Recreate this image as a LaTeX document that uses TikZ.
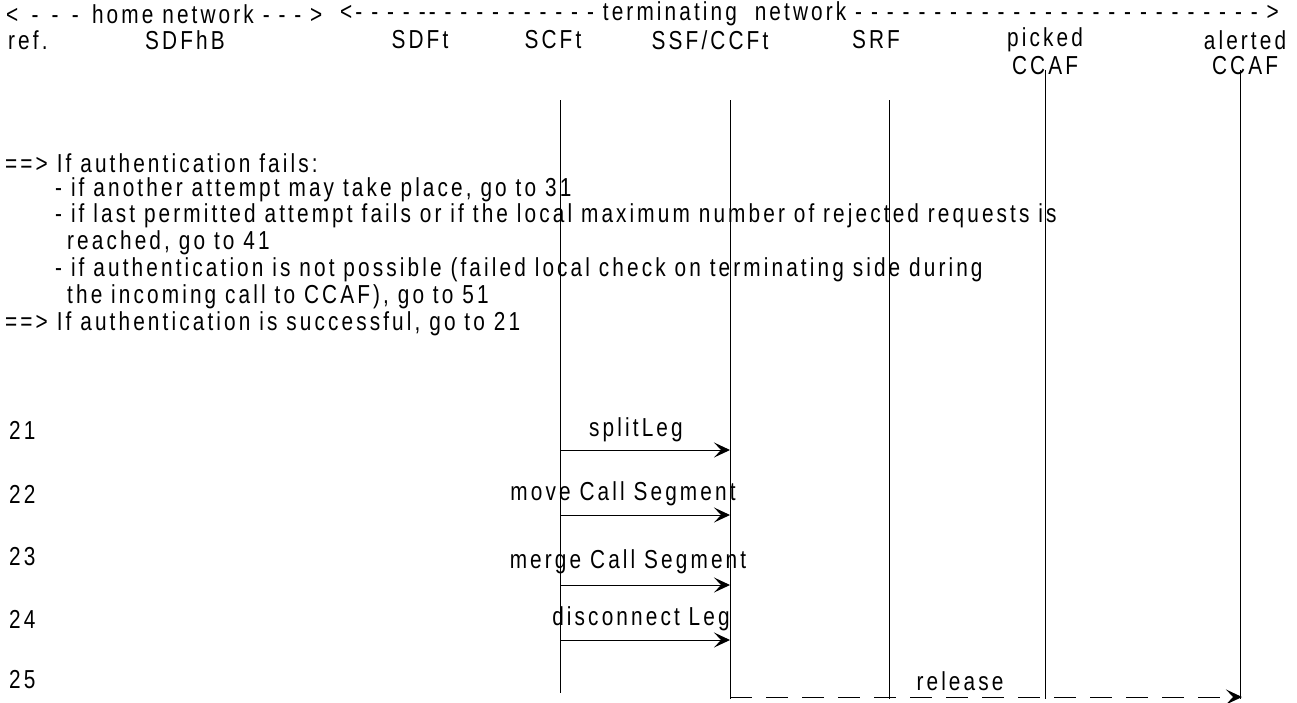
\documentclass[tikz,border=0pt]{standalone}
\usepackage{fontspec}
\setmainfont{Liberation Sans}[FakeStretch=0.8,LetterSpace=12]
\usetikzlibrary{arrows.meta}

\begin{document}
\begin{tikzpicture}[x=1pt, y=-1pt,
        lbl/.style={inner sep=0pt, font=\fontsize{26}{27}\selectfont},
        note/.style={lbl, anchor=west},
        head/.style={lbl, anchor=center},
        lifeline/.style={line width=0.7pt},
        msg/.style={line width=1pt, -{Stealth[length=16pt, width=15pt, inset=7pt]}},
        reply/.style={msg, dash pattern=on 22pt off 14pt},
      ]
      \useasboundingbox (0,0) rectangle (1297,702);
      % network ranges
      \node [note] (home) at (6,14) {<\ \,-\ \,-\ \,-\ \,home network - - - >};
      \node [note] (term) at (340,14) {<- - - - -{}- - - - - - - - - - - terminating\ \ network - - - - - - - - - - - - - - - - - - - - - - - - - - >};
      % functional entities
      \node [note] (ref) at (8,40) {ref.};
      \node [head] (sdfhb) at (185,40) {SDFhB};
      \node [head] (sdft) at (420,40) {SDFt};
      \node [head] (scft) at (553,40) {SCFt};
      \node [head] (ssf) at (710,40) {SSF/CCFt};
      \node [head] (srf) at (876,40) {SRF};
      \node [head] (picked) at (1045,40) {picked};
      \node [head] (pccaf) at (1045,66) {CCAF};
      \node [head] (alerted) at (1245,40) {alerted};
      \node [head] (accaf) at (1245,66) {CCAF};
      % lifelines
      \coordinate (scft top) at (560,100);
      \coordinate (scft end) at (560,693);
      \coordinate (ssf top) at (730,100);
      \coordinate (ssf end) at (730,699);
      \coordinate (srf top) at (889,100);
      \coordinate (srf end) at (889,699);
      \coordinate (picked top) at (1045,70);
      \coordinate (picked end) at (1045,699);
      \coordinate (alerted top) at (1240,70);
      \coordinate (alerted end) at (1240,699);
      \draw [lifeline] (scft top) -- (scft end);
      \draw [lifeline] (ssf top) -- (ssf end);
      \draw [lifeline] (srf top) -- (srf end);
      \draw [lifeline] (picked top) -- (picked end);
      \draw [lifeline] (alerted top) -- (alerted end);
      % authentication outcome
      \node [note] (fail) at (5,163) {==> If authentication fails:};
      \node [note] (fail1) at (55,190) {- if another attempt may take place, go to 31};
      \node [note] (fail2) at (55,216) {- if last permitted attempt fails or if the local maximum number of rejected requests is};
      \node [note] (fail2b) at (67,243) {reached, go to 41};
      \node [note] (fail3) at (55,270) {- if authentication is not possible (failed local check on terminating side during};
      \node [note] (fail3b) at (67,297) {the incoming call to CCAF), go to 51};
      \node [note] (success) at (5,324) {==> If authentication is successful, go to 21};
      % steps
      \node [note] (r21) at (9,430) {21};
      \node [note] (r22) at (9,494) {22};
      \node [note] (r23) at (9,557) {23};
      \node [note] (r24) at (9,619) {24};
      \node [note] (r25) at (9,680) {25};
      \coordinate (a21) at (560,450);
      \coordinate (b21) at (730,450);
      \coordinate (a22) at (560,515);
      \coordinate (b22) at (730,515);
      \coordinate (a23) at (560,585);
      \coordinate (b23) at (730,585);
      \coordinate (a24) at (560,640);
      \coordinate (b24) at (730,640);
      \coordinate (a25) at (730,697);
      \coordinate (b25) at (1242,697);
      \node [head] (m21) at (636,430) {splitLeg};
      \node [head] (m22) at (623,494) {move Call Segment};
      \node [head] (m23) at (628,562) {merge Call Segment};
      \node [head] (m24) at (641,619) {disconnect Leg};
      \node [head] (m25) at (960,681) {release};
      \draw [msg] (a21) -- (b21);
      \draw [msg] (a22) -- (b22);
      \draw [msg] (a23) -- (b23);
      \draw [msg] (a24) -- (b24);
      \draw [reply] (a25) -- (b25);
    \end{tikzpicture}
\end{document}
